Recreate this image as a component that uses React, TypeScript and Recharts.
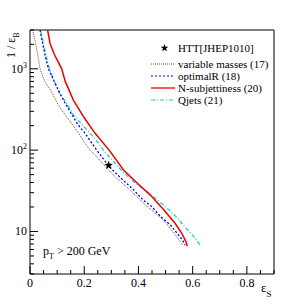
import { ComposedChart, Line, Scatter, XAxis, YAxis, ReferenceArea } from "recharts"

// [eps_S, 1/eps_B]
const variableMasses = [
  [0.01, 3000], [0.02, 2100], [0.03, 1400], [0.037, 1000], [0.055, 690], [0.08, 520],
  [0.1, 380], [0.13, 270], [0.155, 210], [0.18, 160], [0.2, 125], [0.222, 100],
  [0.25, 80], [0.283, 60], [0.32, 45], [0.37, 32], [0.42, 22], [0.46, 17],
  [0.5, 13], [0.52, 10.5], [0.545, 8.3], [0.564, 6.8],
]
const optimalR = [
  [0.037, 3000], [0.045, 2200], [0.055, 1500], [0.068, 1000], [0.085, 750], [0.105, 540],
  [0.123, 413], [0.15, 290], [0.175, 210], [0.203, 161], [0.246, 100], [0.29, 64],
  [0.33, 47], [0.38, 33], [0.419, 24], [0.444, 21], [0.48, 15.5], [0.518, 12],
  [0.545, 9.3], [0.563, 7.8], [0.572, 6.8],
]
const nSubjettiness = [
  [0.065, 3000], [0.074, 2050], [0.09, 1500], [0.117, 1000], [0.13, 700], [0.16, 413],
  [0.2, 250], [0.24, 161], [0.292, 100], [0.345, 57], [0.4, 38], [0.444, 28],
  [0.49, 19], [0.535, 12.6], [0.56, 9.5], [0.575, 7.5], [0.58, 6.6],
]
const qjets = [
  [0.038, 3000], [0.05, 2000], [0.062, 1300], [0.072, 1000], [0.09, 700], [0.11, 500],
  [0.13, 400], [0.16, 270], [0.19, 210], [0.222, 161], [0.25, 125], [0.271, 100],
  [0.296, 80], [0.345, 53], [0.39, 39], [0.43, 31], [0.46, 26], [0.493, 21],
  [0.52, 17.5], [0.545, 14.5], [0.57, 11.5], [0.6, 9], [0.628, 6.8],
]
const htt = [[0.29, 65]]

const X_TICKS = [0, 0.05, 0.1, 0.15, 0.2, 0.25, 0.3, 0.35, 0.4, 0.45, 0.5, 0.55, 0.6, 0.65, 0.7, 0.75, 0.8, 0.85, 0.9]
const Y_TICKS = [
  3, 4, 5, 6, 7, 8, 9, 10, 20, 30, 40, 50, 60, 70, 80, 90,
  100, 200, 300, 400, 500, 600, 700, 800, 900, 1000, 2000, 3000,
]
const Y_LABELS: Record<number, string> = { 10: "", 100: "2", 1000: "3" }

const FONT = "'Liberation Serif', 'DejaVu Serif', serif"

const toPts = (arr: number[][]) => arr.map(([x, y]) => ({ x, y }))

function XTick({ x, y, payload }: any) {
  const v = payload.value as number
  const major = Math.abs(v * 5 - Math.round(v * 5)) < 1e-6
  return (
    <g>
      <line x1={x} x2={x} y1={y} y2={y - (major ? 8 : 4)} stroke="#000" />
      {major && (
        <text x={x} y={y + 12.5} textAnchor="middle" fontSize={12} fontFamily={FONT} fill="#000">
          {String(Math.round(v * 10) / 10)}
        </text>
      )}
    </g>
  )
}

function YTick({ x, y, payload }: any) {
  const v = payload.value as number
  const major = v in Y_LABELS
  return (
    <g>
      <line x1={x} x2={x + (major ? 8 : 4)} y1={y} y2={y} stroke="#000" />
      {major && (
        <text x={x - 3} y={y + 4} textAnchor="end" fontSize={12} fontFamily={FONT} fill="#000">
          10
          {Y_LABELS[v] && <tspan dy={-5} fontSize={8}>{Y_LABELS[v]}</tspan>}
        </text>
      )}
    </g>
  )
}

function starPoints(cx: number, cy: number, r: number) {
  const pts: string[] = []
  for (let i = 0; i < 10; i++) {
    const rr = i % 2 === 0 ? r : r * 0.42
    const a = -Math.PI / 2 + (i * Math.PI) / 5
    pts.push(`${cx + rr * Math.cos(a)},${cy + rr * Math.sin(a)}`)
  }
  return pts.join(" ")
}

function Star({ cx, cy }: any) {
  return <polygon points={starPoints(cx, cy, 4.5)} fill="#000" />
}

const legend = [
  { label: "variable masses (17)", color: "#555", dash: "1 1", width: 1 },
  { label: "optimalR (18)", color: "#0000ee", dash: "2 2", width: 1.2 },
  { label: "N-subjettiness (20)", color: "#ee0000", dash: undefined, width: 1.3 },
  { label: "Qjets (21)", color: "#22cccc", dash: "4 2 1 2", width: 1.2 },
]

export default function App() {
  return (
    <div style={{ position: "absolute", left: 0, top: 0, width: 304, height: 305, background: "#fff" }}>
      <ComposedChart width={304} height={305} margin={{ top: 30, right: 30, left: 29, bottom: 30 }}>
        <XAxis
          dataKey="x" type="number" domain={[0, 0.9]} allowDataOverflow
          ticks={X_TICKS} interval={0} tick={<XTick />} tickSize={0} tickMargin={0}
          axisLine={false} tickLine={false} height={1}
        />
        <YAxis
          type="number" scale="log" domain={[3, 3000]} allowDataOverflow
          ticks={Y_TICKS} interval={0} tick={<YTick />} tickSize={0} tickMargin={0}
          axisLine={false} tickLine={false} width={1}
        />
        <ReferenceArea x1={0} x2={0.9} y1={3} y2={3000} fill="none" stroke="#000" strokeWidth={1} ifOverflow="visible" />
        <Line data={toPts(variableMasses)} dataKey="y" stroke="#555" strokeWidth={1} strokeDasharray="1 1" dot={false} isAnimationActive={false} />
        <Line data={toPts(qjets)} dataKey="y" stroke="#22cccc" strokeWidth={1.3} strokeDasharray="4 2 1 2" dot={false} isAnimationActive={false} />
        <Line data={toPts(optimalR)} dataKey="y" stroke="#0000ee" strokeWidth={1.3} strokeDasharray="2 2" dot={false} isAnimationActive={false} />
        <Line data={toPts(nSubjettiness)} dataKey="y" stroke="#ee0000" strokeWidth={1.5} dot={false} isAnimationActive={false} />
        <Scatter data={toPts(htt)} dataKey="y" shape={<Star />} isAnimationActive={false} />
      </ComposedChart>
      <svg width={304} height={305} style={{ position: "absolute", left: 0, top: 0, pointerEvents: "none" }} fontFamily={FONT}>
        <polygon points={starPoints(164.5, 48, 4)} fill="#000" />
        <text x={178} y={52} fontSize={11}>HTT[JHEP1010]</text>
        {legend.map((e, i) => (
          <g key={e.label}>
            <line x1={151} x2={175} y1={64 + i * 12} y2={64 + i * 12} stroke={e.color} strokeWidth={e.width} strokeDasharray={e.dash} />
            <text x={178} y={68 + i * 12} fontSize={11}>{e.label}</text>
          </g>
        ))}
        <text x={43} y={255} fontSize={12}>p<tspan dy={4} fontSize={8}>T</tspan><tspan dy={-4}> &gt; 200 GeV</tspan></text>
        <text x={261} y={292} fontSize={13}>ε<tspan dy={5} fontSize={9}>S</tspan></text>
        <text transform="translate(15,58) rotate(-90)" fontSize={12}>1 / ε<tspan dy={4} fontSize={8}>B</tspan></text>
      </svg>
    </div>
  )
}
